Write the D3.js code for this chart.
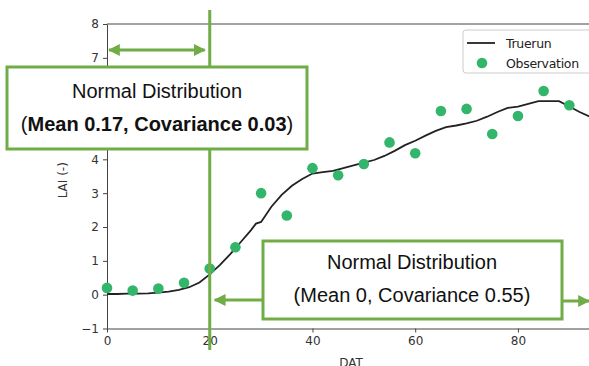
<!DOCTYPE html>
<html>
<head>
<meta charset="utf-8">
<script src="https://cdn.jsdelivr.net/npm/d3@7.9.0/dist/d3.min.js"></script>
<style>
  body { margin: 0; background: #fff; }
  svg { display: block; }
  .tick text { font-family: "DejaVu Sans", sans-serif; font-size: 12px; fill: #333; }
  .tick line, .domain { stroke: #444; }
</style>
</head>
<body>
<svg id="chart"></svg>
<script>
// simulated LAI (truerun), sampled along DAT
const trueDays = [0, 2, 4, 6, 8, 10, 12, 14, 16, 18, 20, 22, 24, 26, 28, 29, 30, 32, 34, 36, 38, 40,
  42, 44, 46, 48, 50, 52, 54, 56, 58, 60, 62, 64, 66, 68, 70, 72, 74, 76, 78, 80, 82, 84, 86, 88, 90, 92, 94, 96];
const trueLai = [0.02, 0.02, 0.03, 0.03, 0.04, 0.06, 0.09, 0.14, 0.22, 0.36, 0.6, 0.88, 1.2, 1.55, 1.9, 2.1, 2.15,
  2.6, 2.95, 3.22, 3.42, 3.58, 3.62, 3.66, 3.74, 3.82, 3.9, 3.98, 4.1, 4.25, 4.42, 4.55, 4.7, 4.84, 4.95, 5.0,
  5.06, 5.14, 5.26, 5.4, 5.52, 5.56, 5.64, 5.72, 5.72, 5.72, 5.56, 5.4, 5.26, 5.12];

// observations every 5 days
const obsDays = [0, 5, 10, 15, 20, 25, 30, 35, 40, 45, 50, 55, 60, 65, 70, 75, 80, 85, 90];
const obsLai = [0.2, 0.12, 0.18, 0.35, 0.77, 1.4, 3.0, 2.34, 3.74, 3.53, 3.86, 4.5, 4.18, 5.43, 5.49, 4.75, 5.28, 6.02, 5.6];

const xTicks = [0, 20, 40, 60, 80];
const yTicks = [-1, 0, 1, 2, 3, 4, 5, 6, 7, 8];
const legendLabels = ["Truerun", "Observation"];

// annotation content
const splitDay = 20;
const boxTitle = "Normal Distribution";
const earlyStats = "Mean 0.17, Covariance 0.03";
const lateStats = "(Mean 0, Covariance 0.55)";

const width = 589, height = 366;
const green = "#70ad47";
const dotColor = "#33b56b";

const svg = d3.select("#chart").attr("width", width).attr("height", height);

const x = d3.scaleLinear().domain([0, 95]).range([107, 595]);
const y = d3.scaleLinear().domain([-1, 8]).range([328.5, 24]);

const minus = d => d < 0 ? "\u2212" + Math.abs(d) : d;

// axes
svg.append("g")
  .attr("transform", `translate(0,${y(-1)})`)
  .call(d3.axisBottom(x).tickValues(xTicks).tickSize(4).tickSizeOuter(0).tickPadding(4))
  .call(g => g.select(".domain").attr("stroke-width", 1));

svg.append("g")
  .attr("transform", `translate(${x(0)},0)`)
  .call(d3.axisLeft(y).tickValues(yTicks).tickFormat(minus).tickSize(4).tickSizeOuter(0).tickPadding(4))
  .call(g => g.select(".domain").attr("stroke-width", 1));

// top spine
svg.append("line")
  .attr("x1", x(0)).attr("x2", x(95))
  .attr("y1", y(8)).attr("y2", y(8))
  .attr("stroke", "#444");

svg.append("text")
  .attr("transform", `translate(67,${(y(8) + y(-1)) / 2 + 4}) rotate(-90)`)
  .attr("text-anchor", "middle")
  .style("font-family", "DejaVu Sans, sans-serif").style("font-size", "12px").attr("fill", "#333")
  .text("LAI (-)");

svg.append("text")
  .attr("x", (x(0) + x(95)) / 2).attr("y", 367)
  .attr("text-anchor", "middle")
  .style("font-family", "DejaVu Sans, sans-serif").style("font-size", "12px").attr("fill", "#333")
  .text("DAT");

// truerun line
const line = d3.line().x((d, i) => x(trueDays[i])).y(d => y(d));
svg.append("path")
  .datum(trueLai)
  .attr("d", line)
  .attr("fill", "none")
  .attr("stroke", "#222")
  .attr("stroke-width", 1.8);

// observations
svg.selectAll("circle.obs")
  .data(obsLai)
  .enter()
  .append("circle")
  .attr("class", "obs")
  .attr("cx", (d, i) => x(obsDays[i]))
  .attr("cy", d => y(d))
  .attr("r", 5.3)
  .attr("fill", dotColor);

// legend
const lg = svg.append("g");
lg.append("rect")
  .attr("x", 463).attr("y", 30).attr("width", 140).attr("height", 43).attr("rx", 3)
  .attr("fill", "#fff").attr("fill-opacity", 0.85).attr("stroke", "#ccc");
lg.append("line")
  .attr("x1", 467).attr("x2", 495).attr("y1", 43).attr("y2", 43)
  .attr("stroke", "#222").attr("stroke-width", 1.8);
lg.append("circle").attr("cx", 482).attr("cy", 63).attr("r", 5.3).attr("fill", dotColor);
legendLabels.forEach((t, i) => {
  lg.append("text")
    .attr("x", 506).attr("y", 47.5 + i * 20)
    .style("font-family", "DejaVu Sans, sans-serif").style("font-size", "12.5px")
    .style("letter-spacing", "-0.3px").attr("fill", "#222")
    .text(t);
});

// arrow markers
const defs = svg.append("defs");
defs.append("marker")
  .attr("id", "head").attr("viewBox", "0 0 10 10").attr("refX", 9).attr("refY", 5)
  .attr("markerWidth", 4).attr("markerHeight", 4).attr("markerUnits", "strokeWidth")
  .attr("orient", "auto-start-reverse")
  .append("path").attr("d", "M0,0L10,5L0,10Z").attr("fill", green);

// split line at DAT 20
svg.append("line")
  .attr("x1", x(splitDay)).attr("x2", x(splitDay))
  .attr("y1", 10).attr("y2", 350)
  .attr("stroke", green).attr("stroke-width", 3);

// double arrow, early period
svg.append("line")
  .attr("x1", x(0) + 2).attr("x2", x(splitDay) - 5)
  .attr("y1", 50).attr("y2", 50)
  .attr("stroke", green).attr("stroke-width", 3)
  .attr("marker-start", "url(#head)").attr("marker-end", "url(#head)");

// annotation boxes
function box(x0, y0, x1, y1) {
  svg.append("rect")
    .attr("x", x0).attr("y", y0).attr("width", x1 - x0).attr("height", y1 - y0)
    .attr("fill", "#fff").attr("stroke", green).attr("stroke-width", 3);
}
const annoFont = "Liberation Sans, Arial, sans-serif";

box(7, 67, 307, 149);
svg.append("text")
  .attr("x", 157).attr("y", 98).attr("text-anchor", "middle")
  .style("font-family", annoFont).style("font-size", "20px").attr("fill", "#111")
  .text(boxTitle);
const t1 = svg.append("text")
  .attr("x", 157).attr("y", 131).attr("text-anchor", "middle")
  .style("font-family", annoFont).style("font-size", "20px").attr("fill", "#111");
t1.append("tspan").text("(");
t1.append("tspan").style("font-weight", "bold").text(earlyStats);
t1.append("tspan").text(")");

// arrows out of the second box
svg.append("line")
  .attr("x1", 263).attr("x2", x(splitDay) + 5)
  .attr("y1", 300).attr("y2", 300)
  .attr("stroke", green).attr("stroke-width", 3)
  .attr("marker-end", "url(#head)");
svg.append("line")
  .attr("x1", 562).attr("x2", 589)
  .attr("y1", 301).attr("y2", 301)
  .attr("stroke", green).attr("stroke-width", 3)
  .attr("marker-end", "url(#head)");

box(263, 241, 562, 319);
svg.append("text")
  .attr("x", 412).attr("y", 269).attr("text-anchor", "middle")
  .style("font-family", annoFont).style("font-size", "20px").attr("fill", "#111")
  .text(boxTitle);
svg.append("text")
  .attr("x", 412).attr("y", 302).attr("text-anchor", "middle")
  .style("font-family", annoFont).style("font-size", "20px").attr("fill", "#111")
  .text(lateStats);
</script>
</body>
</html>
